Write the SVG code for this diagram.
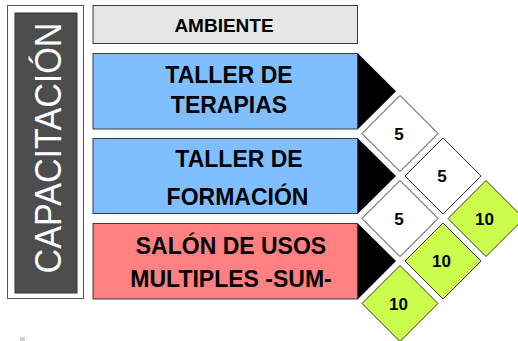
<svg xmlns="http://www.w3.org/2000/svg" width="518" height="341" viewBox="0 0 518 341">
<style>
text{font-family:"Liberation Sans",Arial,sans-serif;font-weight:bold;fill:#000;text-anchor:middle}
.box{stroke:#3a3a3a;stroke-width:1}
.blue{fill:#80bfff}
.red{fill:#ff8080}
.tri{fill:#000}
.dw{fill:#fff;stroke:#333;stroke-width:1}
.dg{fill:#ccff4d;stroke:#333;stroke-width:1}
.lbl{font-size:23px}
.num{font-size:17px}
</style>
<rect width="518" height="341" fill="#fff"/>
<g id="capacitacion">
<rect x="7.5" y="5.5" width="76" height="293" fill="#fff" stroke="#555" stroke-width="1"/>
<rect x="15" y="13" width="62" height="280" fill="#4d4d4d" stroke="#333" stroke-width="1"/>
<text transform="translate(61,148) rotate(-90)" style="font-size:37px;font-weight:normal;fill:#fff" textLength="251" lengthAdjust="spacingAndGlyphs">CAPACITACIÓN</text>
</g>
<g id="ambiente">
<rect class="box" x="93" y="5.5" width="264.5" height="38" fill="#e6e6e6"/>
<text x="224" y="31.5" style="font-size:19px">AMBIENTE</text>
</g>
<g id="taller-terapias">
<rect class="box blue" x="93" y="53.5" width="264.5" height="75.5"/>
<polygon class="tri" points="358,53.5 396,91.3 358,129"/>
<text class="lbl" x="229" y="83.3">TALLER DE</text>
<text class="lbl" x="229" y="113.3">TERAPIAS</text>
</g>
<g id="taller-formacion">
<rect class="box blue" x="93" y="138.5" width="264.5" height="75"/>
<polygon class="tri" points="358,138.5 396,176 358,213.5"/>
<text class="lbl" x="239" y="167.3">TALLER DE</text>
<text class="lbl" x="237.5" y="205">FORMACIÓN</text>
</g>
<g id="salon-sum">
<rect class="box red" x="93" y="223.5" width="264.5" height="75.5"/>
<polygon class="tri" points="358,223.5 396,261 358,299"/>
<text class="lbl" x="231" y="254.3">SALÓN DE USOS</text>
<text class="lbl" x="231" y="286.7">MULTIPLES -SUM-</text>
</g>
<g id="cell-1">
<polygon class="dw" points="400,95.5 438,133.5 400,171.5 362,133.5"/>
<text class="num" x="399" y="139.5">5</text>
</g>
<g id="cell-2">
<polygon class="dw" points="443,138 481,176 443,214 405,176"/>
<text class="num" x="442" y="182">5</text>
</g>
<g id="cell-3">
<polygon class="dw" points="400,180.5 438,218.5 400,256.5 362,218.5"/>
<text class="num" x="399" y="224.5">5</text>
</g>
<g id="cell-4">
<polygon class="dg" points="486,180.5 524,218.5 486,256.5 448,218.5"/>
<text class="num" x="484.5" y="224.5">10</text>
</g>
<g id="cell-5">
<polygon class="dg" points="443,223 481,261 443,299 405,261"/>
<text class="num" x="441.5" y="267">10</text>
</g>
<g id="cell-6">
<polygon class="dg" points="400,265.5 438,303.5 400,341.5 362,303.5"/>
<text class="num" x="398.5" y="309.5">10</text>
</g>
<g id="connectors"></g>
<rect x="20" y="337" width="5" height="4" fill="#d0d0d0"/>
</svg>
